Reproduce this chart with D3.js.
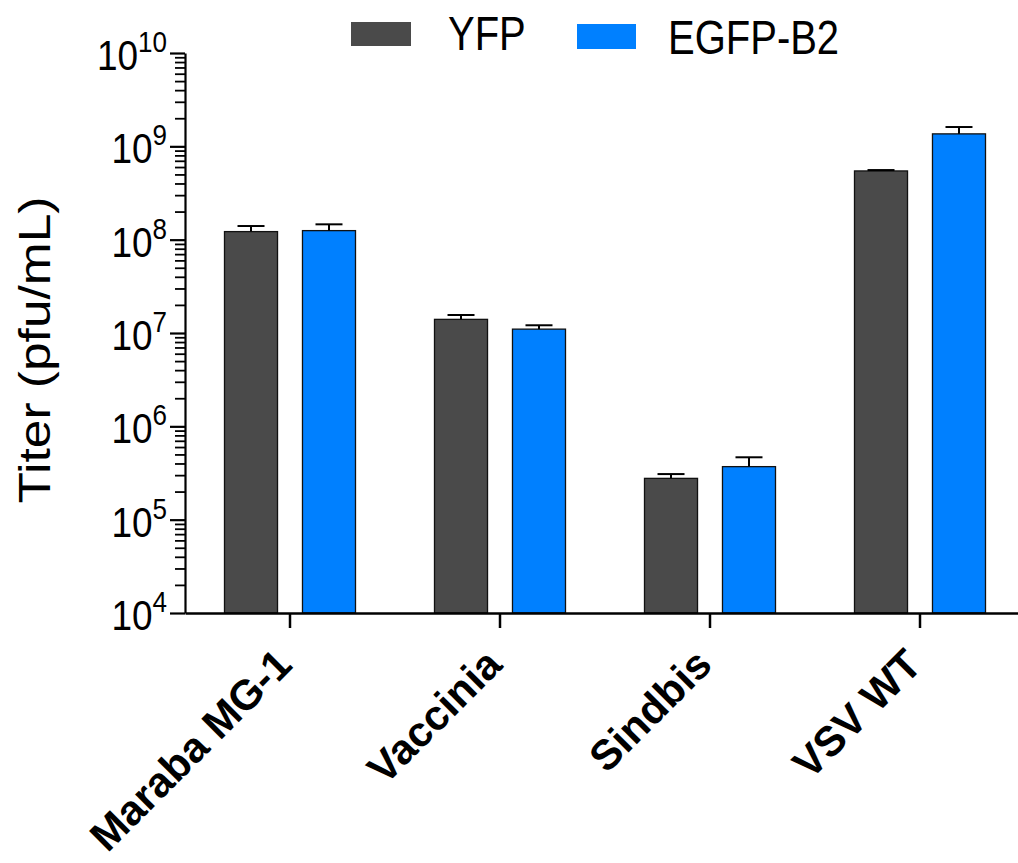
<!DOCTYPE html>
<html>
<head>
<meta charset="utf-8">
<script src="https://cdn.jsdelivr.net/npm/d3@7"></script>
<style>
  html, body { margin: 0; padding: 0; background: #fff; }
  svg { display: block; }
  text { font-family: "Liberation Sans", Arial, Helvetica, sans-serif; fill: #000; }
</style>
</head>
<body>
<svg id="chart" width="1018" height="863"></svg>
<script>
// ---- data ----
const categories = ["Maraba MG-1", "Vaccinia", "Sindbis", "VSV WT"];
const seriesNames = ["YFP", "EGFP-B2"];
const seriesColors = ["#4a4a4a", "#0080ff"];
const yfpValues  = [1.22e8, 1.40e7, 2.77e5, 5.45e8];
const yfpErrors  = [1.8e7, 1.6e6, 3.1e4, 1.2e7];
const egfpValues = [1.25e8, 1.10e7, 3.70e5, 1.36e9];
const egfpErrors = [2.1e7, 1.1e6, 9.6e4, 2.5e8];
const tickExponents = [4, 5, 6, 7, 8, 9, 10];
const yTitle = "Titer (pfu/mL)";

const seriesValues = [yfpValues, egfpValues];
const seriesErrors = [yfpErrors, egfpErrors];

// ---- layout ----
const svg = d3.select("#chart");
const axisX = 185, axisBottom = 613, axisTop = 53, plotRight = 1025;
const textStretch = 1.17;

const y = d3.scaleLog().domain([1e4, 1e10]).range([axisBottom, axisTop]);
const x0 = d3.scaleBand().domain(categories).range([axisX, plotRight]).paddingInner(0).paddingOuter(0);
const x1 = d3.scaleBand().domain(seriesNames).range([39.5, 170.5]).paddingInner(0.32).paddingOuter(0);

// ---- bars ----
const rows = categories.map((c, i) => seriesNames.map((s, j) => ({
  cat: c, series: s, color: seriesColors[j], value: seriesValues[j][i], err: seriesErrors[j][i]
})));

const groups = svg.append("g").selectAll("g.grp").data(rows).join("g")
  .attr("class", "grp")
  .attr("transform", (d, i) => `translate(${x0(categories[i])},0)`);

groups.selectAll("rect").data(d => d).join("rect")
  .attr("x", d => x1(d.series))
  .attr("width", x1.bandwidth())
  .attr("y", d => y(d.value))
  .attr("height", d => y(1e4) - y(d.value))
  .attr("fill", d => d.color)
  .attr("stroke", "#111")
  .attr("stroke-width", 1.3);

// error bars (upper only)
const capW = 27;
groups.selectAll("line.err").data(d => d).join("line")
  .attr("class", "err")
  .attr("x1", d => x1(d.series) + x1.bandwidth() / 2)
  .attr("x2", d => x1(d.series) + x1.bandwidth() / 2)
  .attr("y1", d => y(d.value))
  .attr("y2", d => y(d.value + d.err))
  .attr("stroke", "#000").attr("stroke-width", 2);
groups.selectAll("line.cap").data(d => d).join("line")
  .attr("class", "cap")
  .attr("x1", d => x1(d.series) + x1.bandwidth() / 2 - capW / 2)
  .attr("x2", d => x1(d.series) + x1.bandwidth() / 2 + capW / 2)
  .attr("y1", d => y(d.value + d.err))
  .attr("y2", d => y(d.value + d.err))
  .attr("stroke", "#000").attr("stroke-width", 2);

// ---- y axis ----
const yAxisG = svg.append("g").attr("transform", `translate(${axisX},0)`);
const majorTicks = tickExponents.map(e => Math.pow(10, e));
const minorTicks = [];
tickExponents.slice(0, -1).forEach(e => { for (let k = 2; k <= 9; k++) minorTicks.push(k * Math.pow(10, e)); });

yAxisG.call(d3.axisLeft(y).tickValues(minorTicks).tickSize(10).tickFormat(""))
  .call(g => g.select(".domain").remove())
  .call(g => g.selectAll(".tick line").attr("stroke", "#000").attr("stroke-width", 1.8));
yAxisG.append("g").call(d3.axisLeft(y).tickValues(majorTicks).tickSize(15).tickSizeOuter(0).tickFormat(""))
  .call(g => g.select(".domain").attr("stroke", "#000").attr("stroke-width", 2.2))
  .call(g => g.selectAll(".tick line").attr("stroke", "#000").attr("stroke-width", 2.2));

// tick labels with superscripts
const labelG = svg.append("g");
tickExponents.forEach(e => {
  const ty = y(Math.pow(10, e));
  const g = labelG.append("g").attr("transform", `translate(167,${ty}) scale(1,${textStretch})`);
  const t = g.append("text").attr("text-anchor", "end").attr("y", 14.5).attr("font-size", 37);
  t.append("tspan").text("10");
  t.append("tspan").attr("font-size", 26).attr("dy", -15.5).text(String(e));
});

// y title
svg.append("g").attr("transform", `translate(50,350) scale(1,${textStretch}) rotate(-90)`)
  .append("text").attr("text-anchor", "middle").attr("font-size", 44).text(yTitle);

// ---- x axis ----
const xAxisG = svg.append("g").attr("transform", `translate(0,${axisBottom})`);
xAxisG.call(d3.axisBottom(x0).tickSize(15).tickSizeOuter(0).tickFormat(""))
  .call(g => g.select(".domain").attr("stroke", "#000").attr("stroke-width", 2.5))
  .call(g => g.selectAll(".tick line").attr("stroke", "#000").attr("stroke-width", 2.5));

svg.append("g").selectAll("text.xl").data(categories).join("text")
  .attr("class", "xl")
  .attr("font-size", 42)
  .attr("font-weight", "bold")
  .attr("text-anchor", "end")
  .attr("transform", d => `translate(${x0(d) + x0.bandwidth() / 2 + 4},${axisBottom + 54}) rotate(-45)`)
  .text(d => d);

// ---- legend ----
const legendSw = [{x: 351, y: 22, w: 60, h: 24, tx: 448, ty: 50}, {x: 577, y: 24, w: 59, h: 25, tx: 668, ty: 54}];
const leg = svg.append("g").selectAll("g").data(seriesNames).join("g");
leg.append("rect")
  .attr("x", (d, i) => legendSw[i].x).attr("y", (d, i) => legendSw[i].y)
  .attr("width", (d, i) => legendSw[i].w).attr("height", (d, i) => legendSw[i].h)
  .attr("fill", (d, i) => seriesColors[i]);
leg.append("g")
  .attr("transform", (d, i) => `translate(${legendSw[i].tx},${legendSw[i].ty}) scale(1,1.2)`)
  .append("text").attr("font-size", 40).text(d => d);
</script>
</body>
</html>
